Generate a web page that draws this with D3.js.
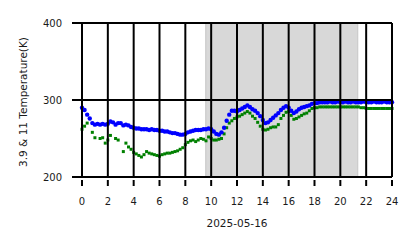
<!DOCTYPE html>
<html>
<head>
<meta charset="utf-8">
<script src="https://d3js.org/d3.v7.min.js"></script>
<style>
  body { margin: 0; background: #fff; }
  svg text { font-family: "DejaVu Sans", sans-serif; fill: #1a1a1a; }
</style>
</head>
<body>
<div id="chart"></div>
<script>
// hours of the day (UTC), 12-minute samples
const hours = [
  0.0, 0.2, 0.4, 0.6, 0.8, 1.0, 1.2, 1.4, 1.6, 1.8,
  2.0, 2.2, 2.4, 2.6, 2.8, 3.0, 3.2, 3.4, 3.6, 3.8,
  4.0, 4.2, 4.4, 4.6, 4.8, 5.0, 5.2, 5.4, 5.6, 5.8,
  6.0, 6.2, 6.4, 6.6, 6.8, 7.0, 7.2, 7.4, 7.6, 7.8,
  8.0, 8.2, 8.4, 8.6, 8.8, 9.0, 9.2, 9.4, 9.6, 9.8,
  10.0, 10.2, 10.4, 10.6, 10.8, 11.0, 11.2, 11.4, 11.6, 11.8,
  12.0, 12.2, 12.4, 12.6, 12.8, 13.0, 13.2, 13.4, 13.6, 13.8,
  14.0, 14.2, 14.4, 14.6, 14.8, 15.0, 15.2, 15.4, 15.6, 15.8,
  16.0, 16.2, 16.4, 16.6, 16.8, 17.0, 17.2, 17.4, 17.6, 17.8,
  18.0, 18.2, 18.4, 18.6, 18.8, 19.0, 19.2, 19.4, 19.6, 19.8,
  20.0, 20.2, 20.4, 20.6, 20.8, 21.0, 21.2, 21.4, 21.6, 21.8,
  22.0, 22.2, 22.4, 22.6, 22.8, 23.0, 23.2, 23.4, 23.6, 23.8,
  24.0
];

// 11 um brightness temperature (K)
const temp11 = [
  290, 287, 281, 276, 270, 268, 269, 268, 269, 268,
  269, 272, 271, 268, 270, 270, 267, 268, 267, 265,
  264, 263, 263, 262, 262, 262, 261, 262, 261, 261,
  260, 260, 259, 259, 258, 257, 257, 256, 255, 255,
  256, 258, 259, 260, 261, 261, 261, 262, 262, 263,
  262, 259, 256, 255, 258, 264, 273, 281, 286, 286,
  285, 287, 289, 291, 293, 291, 288, 286, 283, 279,
  274, 270, 271, 274, 277, 280, 283, 287, 290, 292,
  290, 286, 283, 285, 288, 290, 291, 292, 293, 295,
  296, 296, 297, 297, 297, 297, 298, 297, 297, 298,
  297, 297, 298, 297, 297, 298, 297, 297, 297, 298,
  297, 297, 297, 298, 297, 297, 297, 298, 297, 297,
  297
];

// 3.9 um brightness temperature (K), gaps where no sample
const temp39 = [
  262, 266, 270, null, 258, 251, null, 250, 251, 244,
  248, 254, null, 250, 248, null, 233, 244, 239, 236,
  232, 230, 228, 226, 229, 233, 231, 230, 229, 228,
  227, 229, 230, 231, 231, 232, 233, 234, 236, 238,
  242, 245, 247, 248, 246, 248, 250, 249, 247, 252,
  250, 248, 248, 249, 250, 256, 264, 270, 273, 276,
  278, 279, 281, 283, 285, 283, 279, 276, 271, 266,
  262, 261, 262, 264, 265, 265, 268, 276, 280, 284,
  285, 280, 275, 276, 278, 280, 282, 283, 286, 289,
  290, 290, 291, 291, 291, 291, 291, 291, 291, 291,
  291, 291, 291, 291, 291, 291, 291, 291, 290, 290,
  289, 289, 289, 289, 289, 289, 289, 289, 289, 289,
  289
];

// shaded interval (hours)
const nightSpan = [9.58, 21.35];

const xTicks = [0, 2, 4, 6, 8, 10, 12, 14, 16, 18, 20, 22, 24];
const yTicks = [200, 300, 400];
const dateLabel = "2025-05-16";
const yLabel = "3.9 & 11 Temperature(K)";

const width = 418, height = 248;
const margin = { left: 82, right: 26, top: 23, bottom: 71 };

const x = d3.scaleLinear().domain([0, 24]).range([margin.left, width - margin.right]);
const y = d3.scaleLinear().domain([200, 400]).range([height - margin.bottom, margin.top]);

const svg = d3.select('#chart')
    .append('svg')
    .attr('width', width)
    .attr('height', height);

// shaded band
svg.append('rect')
    .attr('x', x(nightSpan[0]))
    .attr('y', y(400))
    .attr('width', x(nightSpan[1]) - x(nightSpan[0]))
    .attr('height', y(200) - y(400))
    .attr('fill', '#d8d8d8')
    .attr('stroke', '#c6c6c6')
    .attr('stroke-width', 1);

// 3.9 um squares
const green = hours.map((h, i) => ({ h, v: temp39[i] })).filter(d => d.v != null);
svg.append('g')
    .selectAll('rect')
    .data(green)
    .enter()
    .append('rect')
    .attr('x', d => x(d.h) - 1.5)
    .attr('y', d => y(d.v) - 1.5)
    .attr('width', 3)
    .attr('height', 3)
    .attr('fill', '#008000');

// 11 um dots
const blue = hours.map((h, i) => ({ h, v: temp11[i] }));
svg.append('g')
    .selectAll('circle')
    .data(blue)
    .enter()
    .append('circle')
    .attr('cx', d => x(d.h))
    .attr('cy', d => y(d.v))
    .attr('r', 2.2)
    .attr('fill', '#0000ff');

// grid on top of the data, black like the reference
const grid = svg.append('g')
    .attr('stroke', '#000')
    .attr('stroke-width', 2);

grid.selectAll('line.v')
    .data(xTicks)
    .enter()
    .append('line')
    .attr('x1', d => x(d)).attr('x2', d => x(d))
    .attr('y1', y(400)).attr('y2', y(200));

grid.selectAll('line.h')
    .data(yTicks)
    .enter()
    .append('line')
    .attr('x1', x(0) - 10).attr('x2', x(24))
    .attr('y1', d => y(d)).attr('y2', d => y(d));

// x tick marks below the plot
grid.selectAll('line.xt')
    .data(xTicks)
    .enter()
    .append('line')
    .attr('x1', d => x(d)).attr('x2', d => x(d))
    .attr('y1', y(200) + 3).attr('y2', y(200) + 9);

// tick labels
svg.append('g')
    .selectAll('text')
    .data(xTicks)
    .enter()
    .append('text')
    .attr('x', d => x(d))
    .attr('y', 205)
    .attr('text-anchor', 'middle')
    .style('font-size', '10px')
    .text(d => d);

svg.append('g')
    .selectAll('text')
    .data(yTicks)
    .enter()
    .append('text')
    .attr('x', 62)
    .attr('y', d => y(d) + 3.6)
    .attr('text-anchor', 'end')
    .style('font-size', '10px')
    .text(d => d);

// axis labels
svg.append('text')
    .attr('x', (x(0) + x(24)) / 2)
    .attr('y', 227)
    .attr('text-anchor', 'middle')
    .style('font-size', '10.5px')
    .text(dateLabel);

svg.append('text')
    .attr('transform', `translate(27, ${(y(200) + y(400)) / 2 + 2}) rotate(-90)`)
    .attr('text-anchor', 'middle')
    .style('font-size', '10.5px')
    .text(yLabel);
</script>
</body>
</html>
